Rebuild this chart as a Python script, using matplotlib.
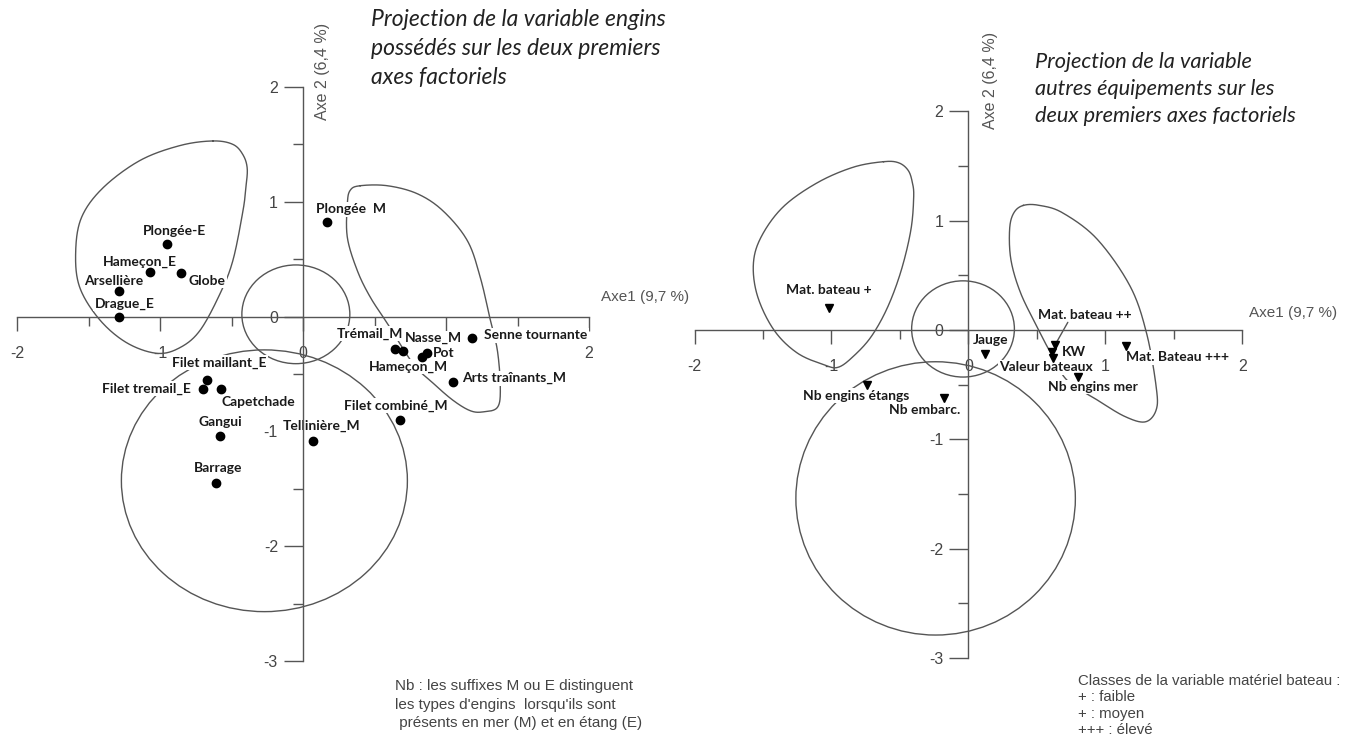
import numpy as np
import matplotlib
matplotlib.use("Agg")
import matplotlib.pyplot as plt
from matplotlib.patches import Ellipse

plt.rcParams['axes.unicode_minus'] = False

# ---------------- data : gear ownership (left map) ----------------
gear_labels = ["Plongée-E", "Hameçon_E", "Globe", "Arsellière", "Drague_E",
               "Plongée  M", "Filet maillant_E", "Filet tremail_E", "Capetchade",
               "Gangui", "Barrage", "Tellinière_M", "Filet combiné_M", "Trémail_M",
               "Nasse_M", "Pot", "Hameçon_M", "Senne tournante", "Arts traînants_M"]
gear_ax1 = [-0.95, -1.07, -0.85, -1.29, -1.29, 0.17, -0.67, -0.70, -0.57,
            -0.58, -0.61, 0.07, 0.68, 0.64, 0.70, 0.865, 0.83, 1.18, 1.05]
gear_ax2 = [0.63, 0.39, 0.38, 0.22, 0.00, 0.82, -0.55, -0.63, -0.63,
            -1.04, -1.45, -1.08, -0.90, -0.28, -0.30, -0.32, -0.35, -0.19, -0.57]

# ---------------- data : other equipment (right map) ----------------
equip_labels = ["Mat. bateau +", "Nb engins étangs", "Nb embarc.", "Jauge",
                "Mat. bateau ++", "KW", "Valeur bateaux", "Nb engins mer",
                "Mat. Bateau +++"]
equip_ax1 = [-1.02, -0.74, -0.18, 0.12, 0.63, 0.61, 0.62, 0.80, 1.15]
equip_ax2 = [0.20, -0.50, -0.62, -0.22, -0.14, -0.20, -0.26, -0.43, -0.15]

# axis tick values and their printed labels
x_ticks = [-2, -1, 0, 1, 2]
x_tick_text_left = ["-2", "-1", "0", "", "2"]
x_tick_text_right = ["-2", "-1", "0", "1", "2"]
x_minor = [-1.5, -0.5, 0.5, 1.5]
y_ticks = [-3, -2, -1, 0, 1, 2]
y_tick_text = ["-3", "-2", "-1", "0", "1", "2"]
y_minor = [-2.5, -1.5, -0.5, 0.5, 1.5]

# hand-drawn groupings (control points of closed outlines)
gear_group1_x = [-0.63, -0.49, -0.42, -0.39, -0.40, -0.42, -0.49, -0.58, -0.72, -0.86,
                 -1.02, -1.23, -1.42, -1.56, -1.59, -1.55, -1.40, -1.14, -0.86]
gear_group1_y = [1.53, 1.50, 1.41, 1.29, 1.12, 0.92, 0.49, 0.20, -0.12, -0.27,
                 -0.32, -0.23, -0.03, 0.25, 0.55, 0.86, 1.12, 1.36, 1.49]
gear_group2_x = [0.40, 0.33, 0.31, 0.31, 0.38, 0.47, 0.59, 0.77, 0.91, 1.05, 1.17,
                 1.26, 1.36, 1.38, 1.36, 1.31, 1.24, 1.15, 0.98, 0.80, 0.59]
gear_group2_y = [1.14, 1.10, 0.98, 0.69, 0.40, 0.17, -0.06, -0.41, -0.58, -0.73, -0.82,
                 -0.83, -0.79, -0.62, -0.30, -0.03, 0.34, 0.66, 0.92, 1.07, 1.14]
equip_group1_x = [-0.62, -0.51, -0.44, -0.41, -0.40, -0.42, -0.49, -0.59, -0.71, -0.84,
                  -0.95, -1.05, -1.25, -1.42, -1.54, -1.57, -1.51, -1.35, -1.10, -0.84]
equip_group1_y = [1.54, 1.53, 1.46, 1.35, 1.22, 0.92, 0.55, 0.21, -0.06, -0.24,
                  -0.34, -0.32, -0.21, 0.0, 0.31, 0.61, 0.86, 1.13, 1.35, 1.49]
equip_group2_x = [0.40, 0.33, 0.30, 0.31, 0.38, 0.50, 0.60, 0.72, 0.94, 1.14, 1.29,
                  1.37, 1.37, 1.30, 1.18, 0.94, 0.69, 0.52]
equip_group2_y = [1.14, 1.07, 0.92, 0.64, 0.34, 0.03, -0.21, -0.46, -0.64, -0.79, -0.84,
                  -0.73, -0.52, -0.03, 0.40, 0.83, 1.07, 1.14]

W, H = 1355, 736
fig = plt.figure(figsize=(W / 100, H / 100), dpi=100)

LINE = "#555555"
TXT = "#444444"
LABEL_FONT = ["Lato", "DejaVu Sans"]
NOTE_FONT = ["Liberation Sans", "DejaVu Sans"]


def make_axes(x_m2, x_p2, y_p2, y_m3, xtext):
    """Axes whose data range [-2,2]x[-3,2] lands on the given pixel positions."""
    ux = (x_p2 - x_m2) / 4.0
    uy = (y_m3 - y_p2) / 5.0
    xl, xr = -2.1, 2.1
    yb, yt = -3.1, 2.1
    left = x_m2 + (xl + 2) * ux
    right = x_m2 + (xr + 2) * ux
    top = y_p2 - (yt - 2) * uy
    bottom = y_p2 + (2 - yb) * uy
    ax = fig.add_axes([left / W, 1 - bottom / H, (right - left) / W, (bottom - top) / H])
    ax.set_xlim(xl, xr)
    ax.set_ylim(yb, yt)
    ax.patch.set_visible(False)
    for s in ("top", "right"):
        ax.spines[s].set_visible(False)
    ax.spines["left"].set_position(("data", 0))
    ax.spines["bottom"].set_position(("data", 0))
    ax.spines["left"].set_bounds(-3, 2)
    ax.spines["bottom"].set_bounds(-2, 2)
    for s in ("left", "bottom"):
        ax.spines[s].set_color(LINE)
        ax.spines[s].set_linewidth(1.0)
        ax.spines[s].set_zorder(4)
    ax.set_xticks(x_ticks)
    ax.set_xticklabels(xtext)
    ax.set_xticks(x_minor, minor=True)
    ax.set_yticks(y_ticks)
    ax.set_yticklabels(y_tick_text)
    ax.set_yticks(y_minor, minor=True)
    ax.tick_params(axis="x", which="major", direction="out", length=10, width=1,
                   color=LINE, labelsize=11.5, labelcolor=TXT, pad=11)
    ax.tick_params(axis="x", which="minor", direction="out", length=6.5, width=1, color=LINE)
    ax.tick_params(axis="y", which="major", direction="out", length=14, width=1,
                   color=LINE, labelsize=11.5, labelcolor=TXT, pad=4)
    ax.tick_params(axis="y", which="minor", direction="out", length=7, width=1, color=LINE)
    for lab in ax.get_xticklabels() + ax.get_yticklabels():
        lab.set_family(NOTE_FONT)
    return ax


def closed_curve(xs, ys, n=40):
    """Smooth closed Catmull-Rom outline through the control points."""
    P = np.column_stack([xs, ys])
    N = len(P)
    t = np.linspace(0, 1, n, endpoint=False)[:, None]
    segs = []
    for i in range(N):
        p0, p1, p2, p3 = P[i - 1], P[i], P[(i + 1) % N], P[(i + 2) % N]
        segs.append(0.5 * (2 * p1 + (-p0 + p2) * t
                           + (2 * p0 - 5 * p1 + 4 * p2 - p3) * t ** 2
                           + (-p0 + 3 * p1 - 3 * p2 + p3) * t ** 3))
    out = np.vstack(segs + [segs[0][:1]])
    return out[:, 0], out[:, 1]


def draw_outline(ax, xs, ys):
    cx, cy = closed_curve(xs, ys)
    ax.plot(cx, cy, color=LINE, lw=1.0, zorder=2)


def draw_ellipse(ax, cx, cy, w, h):
    ax.add_patch(Ellipse((cx, cy), w, h, fill=False, ec=LINE, lw=1.0, zorder=2))


def put_labels(ax, names, xs, ys, layout):
    for name, x, y in zip(names, xs, ys):
        dx, dy, ha = layout[name]
        ax.annotate(name, (x, y), xytext=(dx, -dy), textcoords="offset pixels",
                    ha=ha, va="center", fontsize=10, fontweight="bold",
                    family=LABEL_FONT, color="#1a1a1a", zorder=3,
                    bbox=dict(boxstyle="square,pad=0.1", fc="white", ec="none"))


# ======================= left map =======================
axL = make_axes(17, 589, 87, 661, x_tick_text_left)
draw_outline(axL, gear_group1_x, gear_group1_y)
draw_outline(axL, gear_group2_x, gear_group2_y)
draw_ellipse(axL, -0.05, 0.02, 0.755, 0.86)
draw_ellipse(axL, -0.27, -1.43, 2.0, 2.28)
axL.plot(gear_ax1, gear_ax2, "o", color="black", ms=6, zorder=5, ls="none")

gear_layout = {
    "Plongée-E": (7, -13, "center"), "Hameçon_E": (-10, -10, "center"),
    "Globe": (7, 8, "left"), "Arsellière": (-5, -10, "center"),
    "Drague_E": (6, -13, "center"), "Plongée  M": (-11, -13, "left"),
    "Filet maillant_E": (12, -17, "center"), "Filet tremail_E": (-12, 0, "right"),
    "Capetchade": (0, 13, "left"), "Gangui": (0, -14, "center"),
    "Barrage": (2, -15, "center"), "Tellinière_M": (9, -15, "center"),
    "Filet combiné_M": (-4, -14, "center"), "Trémail_M": (-25, -15, "center"),
    "Nasse_M": (30, -13, "center"), "Pot": (6, 0, "left"),
    "Hameçon_M": (-13, 10, "center"), "Senne tournante": (12, -3, "left"),
    "Arts traînants_M": (9, -4, "left"),
}
put_labels(axL, gear_labels, gear_ax1, gear_ax2, gear_layout)

# ======================= right map =======================
axR = make_axes(694.5, 1242.5, 111.4, 658, x_tick_text_right)
draw_outline(axR, equip_group1_x, equip_group1_y)
draw_outline(axR, equip_group2_x, equip_group2_y)
draw_ellipse(axR, -0.04, 0.01, 0.75, 0.88)
draw_ellipse(axR, -0.24, -1.54, 2.04, 2.5)
axR.plot(equip_ax1, equip_ax2, "v", color="black", ms=6, zorder=5, ls="none")

equip_layout = {
    "Mat. bateau +": (0, -18, "center"), "Nb engins étangs": (-11, 11, "center"),
    "Nb embarc.": (-19, 12, "center"), "Jauge": (6, -14, "center"),
    "Mat. bateau ++": (30, -30, "center"), "KW": (10, 0, "left"),
    "Valeur bateaux": (-7, 9, "center"), "Nb engins mer": (15, 10, "center"),
    "Mat. Bateau +++": (0, 11, "left"),
}
put_labels(axR, equip_labels, equip_ax1, equip_ax2, equip_layout)
# leader from "Mat. bateau ++" down to its marker
i_pp = equip_labels.index("Mat. bateau ++")
axR.annotate("", (equip_ax1[i_pp], equip_ax2[i_pp]), xytext=(13, 23),
             textcoords="offset pixels",
             arrowprops=dict(arrowstyle="-", color=LINE, lw=1.0, shrinkA=0, shrinkB=3),
             zorder=3)

# ======================= axis titles =======================
fig.text(645 / W, 1 - 297 / H, "Axe1 (9,7 %)", ha="center", va="center",
         fontsize=11, color="#555555", family=NOTE_FONT)
fig.text(1293 / W, 1 - 313 / H, "Axe1 (9,7 %)", ha="center", va="center",
         fontsize=11, color="#555555", family=NOTE_FONT)
fig.text(323 / W, 1 - 71 / H, "Axe 2 (6,4 %)", ha="center", va="center", rotation=90,
         fontsize=11.5, color="#555555", family=NOTE_FONT)
fig.text(990 / W, 1 - 80 / H, "Axe 2 (6,4 %)", ha="center", va="center", rotation=90,
         fontsize=11.5, color="#555555", family=NOTE_FONT)

# ======================= headings =======================
fig.text(371 / W, 1 - 9 / H,
         "Projection de la variable engins\npossédés sur les deux premiers\naxes factoriels",
         ha="left", va="top", fontsize=16.5, style="italic", color="#222222",
         family=LABEL_FONT, linespacing=1.48)
fig.text(1035 / W, 1 - 52 / H,
         "Projection de la variable\nautres équipements sur les\ndeux premiers axes factoriels",
         ha="left", va="top", fontsize=15.7, style="italic", color="#222222",
         family=LABEL_FONT, linespacing=1.45)

# ======================= notes =======================
fig.text(395 / W, 1 - 679 / H,
         "Nb : les suffixes M ou E distinguent\nles types d'engins  lorsqu'ils sont\n présents en mer (M) et en étang (E)",
         ha="left", va="top", fontsize=11, color=TXT, family=NOTE_FONT, linespacing=1.42)
fig.text(1078 / W, 1 - 674 / H,
         "Classes de la variable matériel bateau :\n+ : faible\n+ : moyen\n+++ : élevé",
         ha="left", va="top", fontsize=10.8, color=TXT, family=NOTE_FONT, linespacing=1.22)

fig.savefig("out.png", dpi=100)
